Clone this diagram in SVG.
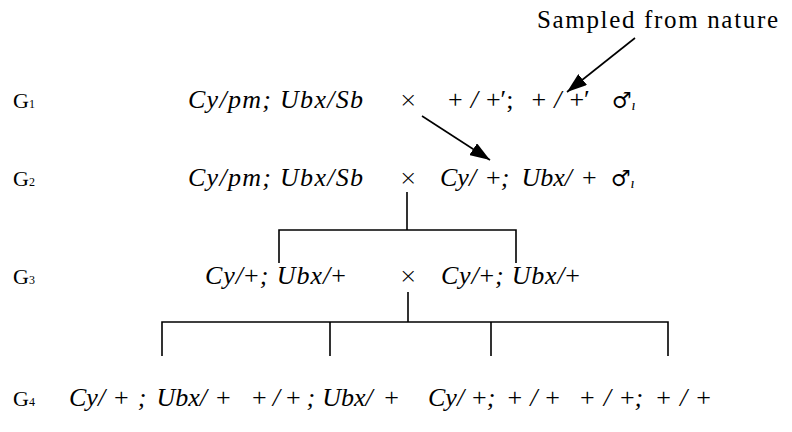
<svg xmlns="http://www.w3.org/2000/svg" width="792" height="432" viewBox="0 0 792 432">
<defs>
<style>
.lbl{font-family:"Liberation Serif","DejaVu Serif",serif;font-size:22px;fill:#000}
.sub{font-family:"Liberation Serif",serif;font-size:12px;fill:#000}
.f{font-family:"Liberation Serif","DejaVu Serif",serif;font-size:26px;font-style:italic;fill:#000}
.n{font-style:normal}
.x{font-family:"DejaVu Sans",sans-serif;font-size:22px;font-weight:200;fill:#000}
.sym{font-family:"DejaVu Serif","DejaVu Sans",sans-serif;font-size:22px;font-style:normal}
.ttl{font-family:"Liberation Serif","DejaVu Serif",serif;font-size:25px;fill:#000}
.ln{stroke:#000;stroke-width:1.6;fill:none}
</style>
<marker id="ah2" viewBox="0 0 20 14" refX="20" refY="7" markerWidth="20" markerHeight="14" markerUnits="userSpaceOnUse" orient="auto">
<path d="M0,0 L20,7 L0,14 z" fill="#000"/>
</marker>
</defs>
<g id="title"><text class="ttl" x="537" y="28" textLength="241" lengthAdjust="spacing">Sampled from nature</text></g>
<g id="gen-labels">
<text class="lbl" x="13" y="108">G<tspan class="sub">1</tspan></text>
<text class="lbl" x="13" y="186">G<tspan class="sub">2</tspan></text>
<text class="lbl" x="13" y="284">G<tspan class="sub">3</tspan></text>
<text class="lbl" x="13" y="406">G<tspan class="sub">4</tspan></text>
</g>
<g id="g1-female"><text class="f" x="188" y="108" textLength="175" lengthAdjust="spacing">Cy/pm; Ubx/Sb</text></g>
<g id="g1-cross"><text class="x" x="399" y="107">×</text></g>
<g id="g1-male"><text class="f" x="448" y="108"><tspan class="n">+</tspan><tspan dx="8">/</tspan><tspan class="n" dx="8">+′;</tspan><tspan class="n" dx="18">+</tspan><tspan dx="8">/</tspan><tspan class="n" dx="8">+′</tspan><tspan class="sym" dx="22">♂</tspan><tspan font-size="15" dy="2">ı</tspan></text></g>
<g id="g2-female"><text class="f" x="188" y="186" textLength="175" lengthAdjust="spacing">Cy/pm; Ubx/Sb</text></g>
<g id="g2-cross"><text class="x" x="399" y="185">×</text></g>
<g id="g2-male"><text class="f" x="440" y="186">Cy/<tspan class="n" dx="10">+</tspan>;<tspan dx="12">Ubx/</tspan><tspan class="n" dx="10">+</tspan><tspan class="sym" dx="14">♂</tspan><tspan font-size="15" dy="2">ı</tspan></text></g>
<g id="g3-female"><text class="f" x="205" y="284" textLength="141" lengthAdjust="spacing">Cy/<tspan class="n">+</tspan>; Ubx/<tspan class="n">+</tspan></text></g>
<g id="g3-cross"><text class="x" x="399" y="283">×</text></g>
<g id="g3-male"><text class="f" x="441" y="284" textLength="139" lengthAdjust="spacing">Cy/<tspan class="n">+</tspan>; Ubx/<tspan class="n">+</tspan></text></g>
<g id="g4-a"><text class="f" x="69" y="406">Cy/<tspan class="n" dx="9">+</tspan><tspan dx="9">;</tspan><tspan dx="10">Ubx/</tspan><tspan class="n" dx="9">+</tspan></text></g>
<g id="g4-b"><text class="f" x="252" y="406"><tspan class="n">+</tspan><tspan dx="6">/</tspan><tspan class="n" dx="6">+</tspan><tspan dx="6">;</tspan><tspan dx="7">Ubx/</tspan> <tspan class="n" dx="5">+</tspan></text></g>
<g id="g4-c"><text class="f" x="428" y="406">Cy/<tspan class="n" dx="8">+</tspan>;<tspan class="n" dx="12">+</tspan><tspan dx="8">/</tspan><tspan class="n" dx="8">+</tspan></text></g>
<g id="g4-d"><text class="f" x="580" y="406"><tspan class="n">+</tspan><tspan dx="9">/</tspan><tspan class="n" dx="9">+</tspan>;<tspan class="n" dx="13">+</tspan><tspan dx="9">/</tspan><tspan class="n" dx="9">+</tspan></text></g>
<g id="connectors">
<line class="ln" x1="635" y1="38" x2="567" y2="92" marker-end="url(#ah2)"/>
<line class="ln" x1="422" y1="116" x2="490" y2="160" marker-end="url(#ah2)"/>
<path class="ln" d="M407,192 V230 M279,263 V230 H516 V263"/>
<path class="ln" d="M408,292 V322 M162,356 V322 H668 V356 M330,322 V356 M491,322 V356"/>
</g>
</svg>
